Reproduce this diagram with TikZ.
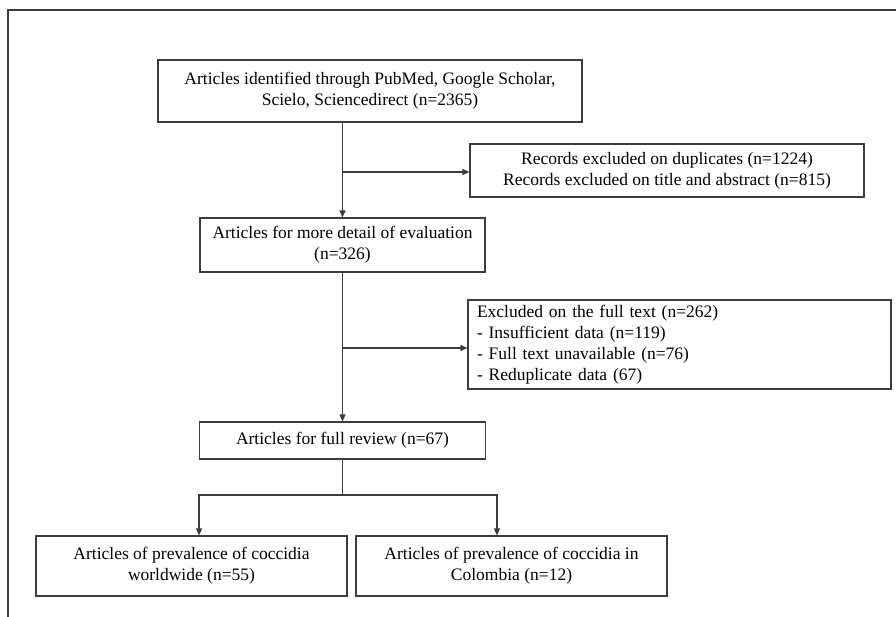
\documentclass[tikz,border=0pt]{standalone}
\usepackage{fontspec}
\setmainfont{Liberation Serif}
\usetikzlibrary{arrows.meta}
\definecolor{linec}{HTML}{3C3C3C}
\begin{document}
\begin{tikzpicture}[x=1pt,y=-1pt,
  box/.style={draw=linec,line width=1.1pt,inner sep=0pt,align=center,font=\fontsize{17.5}{21}\selectfont},
  arr/.style={draw=linec,line width=1.1pt,-{Triangle[length=7pt,width=6pt]}},
  ln/.style={draw=linec,line width=1.1pt},
  frame/.style={draw=linec,line width=1.2pt}]
\useasboundingbox (0,0) rectangle (896,617);
\draw[frame] (8,617) -- (8,10) -- (896,10);

\node[box,minimum width=424pt,minimum height=62pt] (b1) at (370,91)
  {Articles identified through PubMed, Google Scholar,\\ Scielo, Sciencedirect (n=2365)};
\node[box,minimum width=394pt,minimum height=53pt] (b2) at (667,170.5)
  {Records excluded on duplicates (n=1224)\\ Records excluded on title and abstract (n=815)};
\node[box,minimum width=285pt,minimum height=54pt] (b3) at (342.5,245)
  {Articles for more detail of evaluation\\ (n=326)};
\node[box,align=left,text width=405pt,inner xsep=9pt,minimum height=89pt] (b4) at (679.5,344.5)
  {Excluded on the full text (n=262)\\ - Insufficient data (n=119)\\ - Full text unavailable (n=76)\\ - Reduplicate data (67)};
\node[box,minimum width=286pt,minimum height=37pt] (b5) at (342.5,440.5)
  {Articles for full review (n=67)};
\node[box,minimum width=311pt,minimum height=60pt] (b6) at (191.5,566)
  {Articles of prevalence of coccidia\\ worldwide (n=55)};
\node[box,minimum width=311pt,minimum height=60pt] (b7) at (511.5,566)
  {Articles of prevalence of coccidia in\\ Colombia (n=12)};

\coordinate (j1) at (342.5,172);
\coordinate (j2) at (342.5,348);
\coordinate (br) at (342.5,495);

\draw[arr] (b1.south -| b3.north) -- (b3.north);
\draw[arr] (j1) -- (j1 -| b2.west);
\draw[arr] (b3.south) -- (b5.north);
\draw[arr] (j2) -- (j2 -| b4.west);
\draw[ln] (b5.south) -- (br);
\draw[arr] (br) -| ([xshift=7.5pt]b6.north);
\draw[arr] (br) -| ([xshift=-14.5pt]b7.north);
\end{tikzpicture}
\end{document}
